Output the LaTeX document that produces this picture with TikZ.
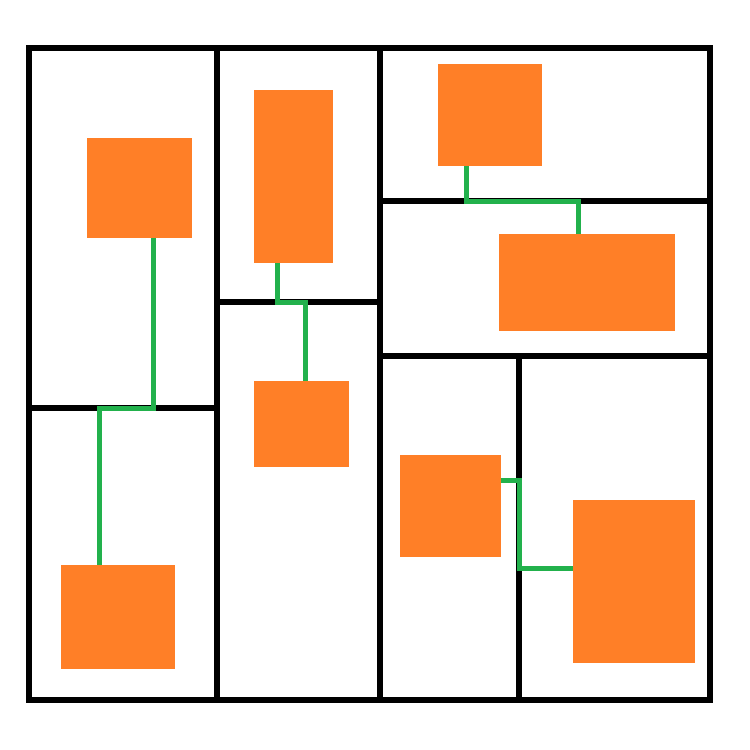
\documentclass[tikz,border=0pt]{standalone}
\usepackage{tikz}
\usetikzlibrary{positioning}

\tikzset{
  room/.style={fill=roomorange, draw=none, inner sep=0pt, outer sep=0pt},
  wall/.style={draw=black, line width=0.11cm, line cap=rect},
  corridor/.style={draw=corrgreen, line width=0.1cm}
}
\definecolor{roomorange}{HTML}{FF7F27}
\definecolor{corrgreen}{HTML}{22B14C}

\begin{document}
\begin{tikzpicture}[x=0.02cm, y=-0.02cm]
      \useasboundingbox (0,0) rectangle (750,750);

      \draw[wall] (29,48) rectangle (710,700);
      \draw[wall] (217,48) -- (217,700);
      \draw[wall] (380,48) -- (380,700);
      \draw[wall] (29,408) -- (217,408);
      \draw[wall] (217,302) -- (380,302);
      \draw[wall] (380,201) -- (710,201);
      \draw[wall] (380,356) -- (710,356);
      \draw[wall] (519,356) -- (519,700);

      \node[room, minimum width=2.10cm, minimum height=2.00cm] (r1) at (139.5,188)   {};
      \node[room, minimum width=1.58cm, minimum height=3.46cm] (r2) at (293.5,176.5) {};
      \node[room, minimum width=2.08cm, minimum height=2.04cm] (r3) at (490,115)     {};
      \node[room, minimum width=3.52cm, minimum height=1.94cm] (r4) at (587,282.5)   {};
      \node[room, minimum width=1.90cm, minimum height=1.72cm] (r5) at (301.5,424)   {};
      \node[room, minimum width=2.28cm, minimum height=2.08cm] (r6) at (118,617)     {};
      \node[room, minimum width=2.02cm, minimum height=2.04cm] (r7) at (450.5,506)   {};
      \node[room, minimum width=2.44cm, minimum height=3.26cm] (r8) at (634,581.5)   {};

      \coordinate (b1) at (99,408);
      \coordinate (b2) at (305,302);
      \coordinate (b3) at (578,201);
      \coordinate (b4) at (519,568);

      \path[corridor] ([xshift=0.29cm]r1.south)  |- (b1) -- (b1 |- r6.north);
      \path[corridor] ([xshift=-0.33cm]r2.south) |- (b2) -- (b2 |- r5.north);
      \path[corridor] ([xshift=-0.48cm]r3.south) |- (b3) -- (b3 |- r4.north);
      \path[corridor] ([yshift=0.52cm]r7.east)   -| (b4) -- (b4 -| r8.west);
    \end{tikzpicture}
\end{document}
